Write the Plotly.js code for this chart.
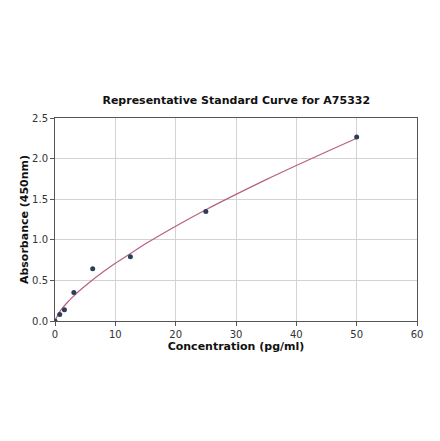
<!DOCTYPE html>
<html>
<head>
<meta charset="utf-8">
<script src="https://cdn.plot.ly/plotly-3.0.1.min.js"></script>
<style>
  html, body { margin: 0; padding: 0; background: #fff; }
  #chart { width: 440px; height: 441px; }
</style>
</head>
<body>
<div id="chart"></div>
<script>
// standard points (concentration, absorbance)
var concentration = [0, 0.78, 1.56, 3.125, 6.25, 12.5, 25, 50];
var absorbance = [0.0, 0.08, 0.14, 0.35, 0.645, 0.79, 1.35, 2.265];

// fitted curve
var curveX = [0, 0.5, 1, 2, 3, 4, 6, 8, 10, 12.5, 15, 20, 25, 30, 35, 40, 45, 50];
var curveY = [0, 0.08, 0.137, 0.225, 0.30, 0.369, 0.493, 0.606, 0.711, 0.83, 0.95, 1.167, 1.37, 1.559, 1.741, 1.915, 2.084, 2.25];

var xTicks = [0, 10, 20, 30, 40, 50, 60];
var yTicks = [0, 0.5, 1.0, 1.5, 2.0, 2.5];
var yTickText = ['0.0', '0.5', '1.0', '1.5', '2.0', '2.5'];

var fit = {
    x: curveX,
    y: curveY,
    mode: 'lines',
    type: 'scatter',
    line: { color: '#b8607f', width: 1.2, shape: 'spline' },
    hoverinfo: 'skip'
};

var points = {
    x: concentration,
    y: absorbance,
    mode: 'markers',
    type: 'scatter',
    marker: { color: '#2c3d5a', size: 5 }
};

var axisCommon = {
    showgrid: true,
    gridcolor: '#d3d3d3',
    gridwidth: 1,
    zeroline: false,
    showline: true,
    linecolor: '#555555',
    linewidth: 1,
    mirror: true,
    ticks: 'outside',
    ticklen: 4,
    tickcolor: '#555555',
    tickfont: { family: 'DejaVu Sans', size: 10, color: '#333333' }
};

var layout = {
    width: 440,
    height: 441,
    margin: { l: 55, r: 23, t: 118, b: 120 },
    paper_bgcolor: '#ffffff',
    plot_bgcolor: '#ffffff',
    showlegend: false,
    title: {
        text: '<b>Representative Standard Curve for A75332</b>',
        font: { family: 'DejaVu Sans', size: 11, color: '#111111' },
        x: 0.537,
        xanchor: 'center',
        y: 0.773,
        yanchor: 'middle'
    },
    xaxis: Object.assign({}, axisCommon, {
        range: [0, 60],
        tickvals: xTicks,
        title: {
            text: '<b>Concentration (pg/ml)</b>',
            font: { family: 'DejaVu Sans', size: 11, color: '#111111' },
            standoff: 3
        }
    }),
    yaxis: Object.assign({}, axisCommon, {
        range: [0, 2.5],
        tickvals: yTicks,
        ticktext: yTickText,
        title: {
            text: '<b>Absorbance (450nm)</b>',
            font: { family: 'DejaVu Sans', size: 11, color: '#111111' },
            standoff: 1
        }
    })
};

Plotly.newPlot('chart', [fit, points], layout, { staticPlot: true });
</script>
</body>
</html>
